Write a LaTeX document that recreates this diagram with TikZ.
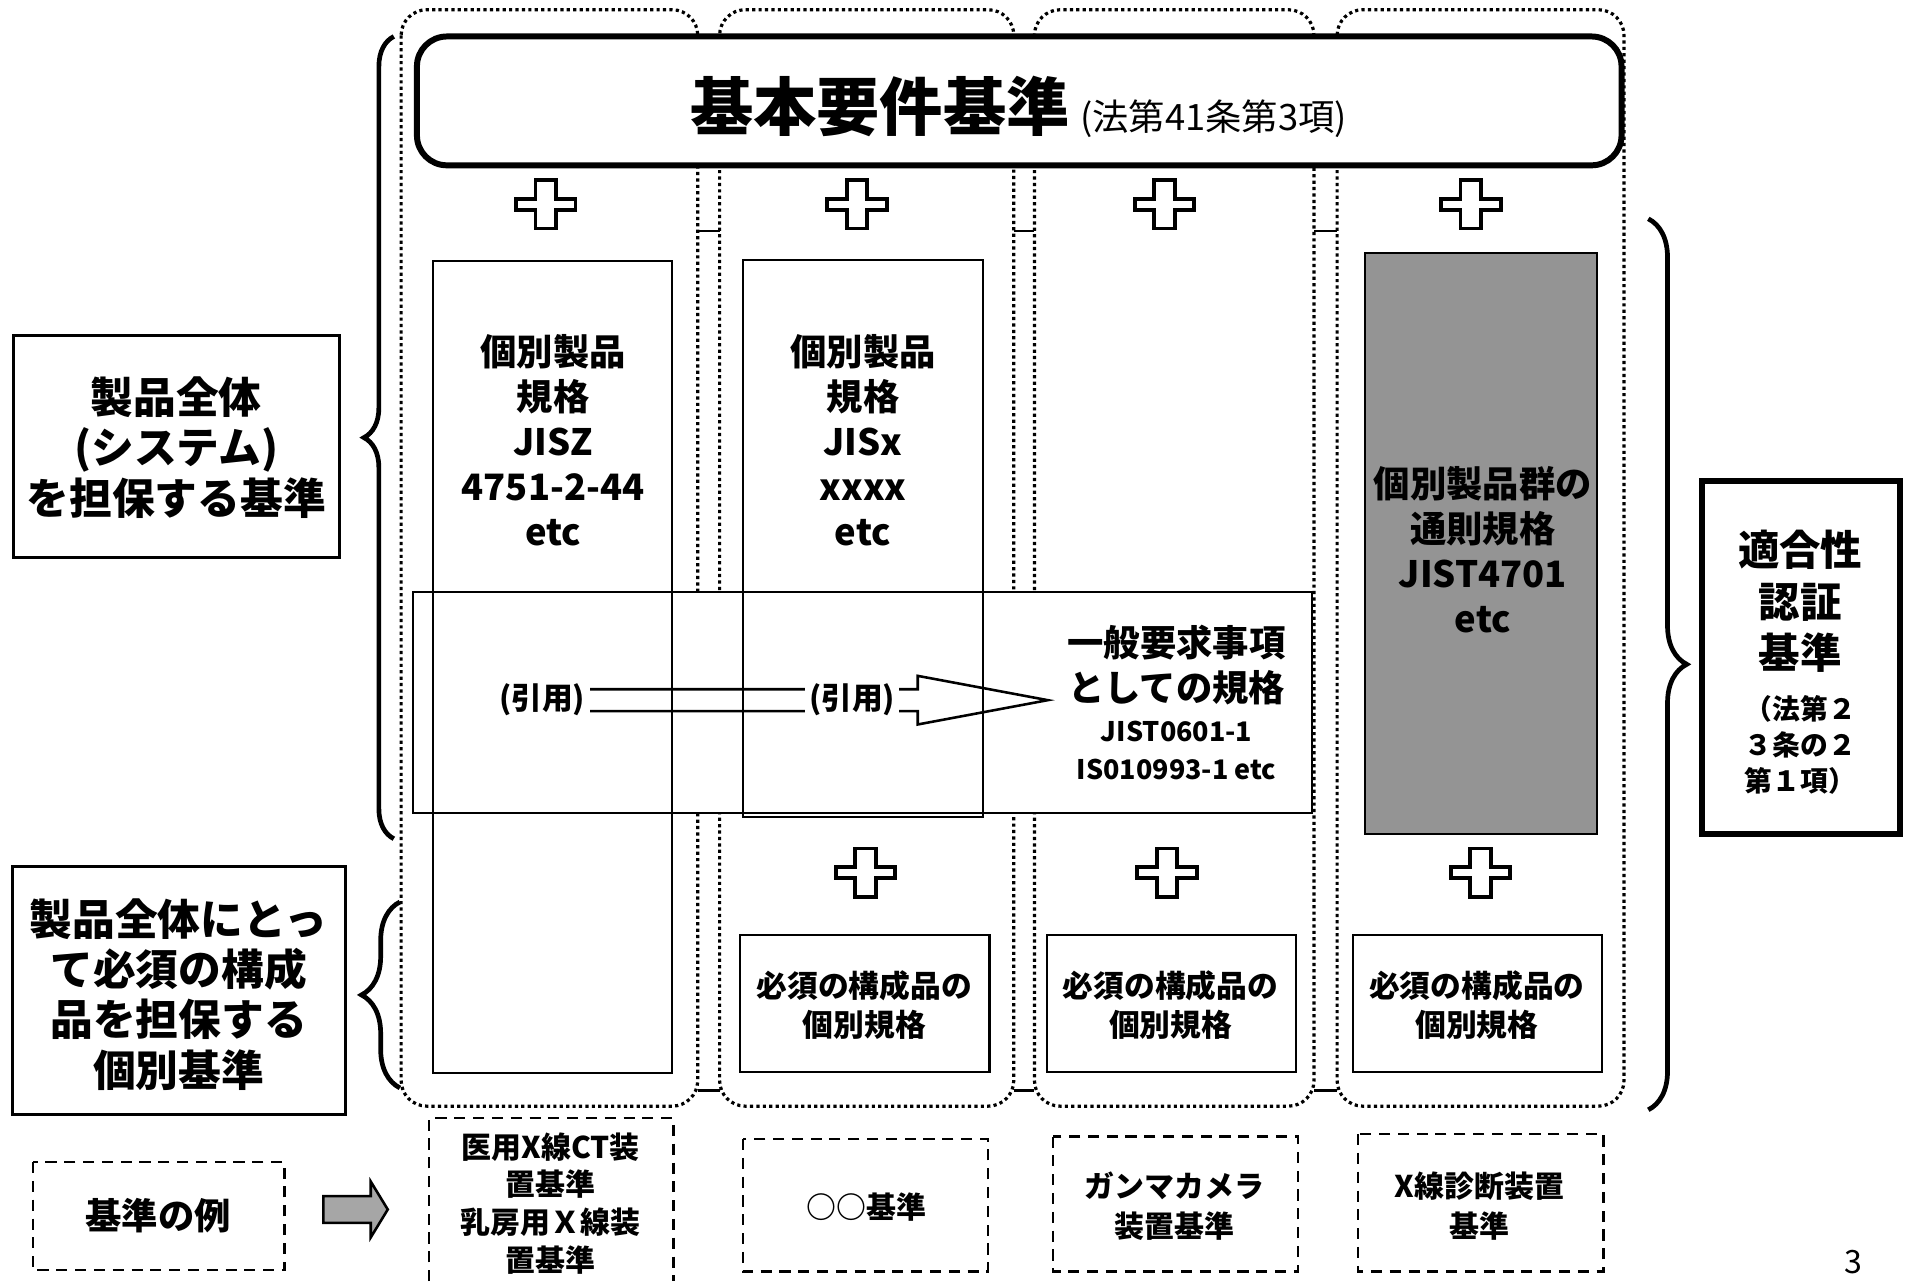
\documentclass[tikz,border=0pt]{standalone}
\usepackage{fontspec}
\usepackage{tikz}
\usetikzlibrary{calc}
\usetikzlibrary{decorations.pathreplacing}
\setmainfont{Noto Sans CJK JP}
\newcommand\sml{\fontsize{6.3}{8.8}\selectfont}
\newcommand\smr{\fontsize{6.5}{8.4}\selectfont}
\tikzset{colframe/.style={draw=black,line width=0.75pt,dash pattern=on 0.75pt off 0.75pt,rounded corners=6pt}}
\tikzset{plusmark/.style={draw=black,line width=0.9pt,fill=white}}
\tikzset{stdbox/.style={draw=black,line width=0.5pt}}
\tikzset{exbox/.style={draw=black,line width=0.55pt,dash pattern=on 2.6pt off 1.8pt}}
\tikzset{curly/.style={decorate,decoration={brace,amplitude=#1},line width=1.1pt}}
\tikzset{txtL/.style={align=center,font=\bfseries\fontsize{10}{11.8}\selectfont}}
\tikzset{txtM/.style={align=center,font=\bfseries\fontsize{8.5}{10.5}\selectfont}}
\tikzset{txtS/.style={align=center,font=\bfseries\fontsize{7.2}{9.1}\selectfont}}
\tikzset{txtX/.style={align=center,font=\bfseries\fontsize{7}{8.8}\selectfont}}

\begin{document}
\begin{tikzpicture}[x=0.01cm,y=-0.01cm]
\useasboundingbox (0,0) rectangle (1568,1054);

	% dotted columns
	\foreach \l/\r in {330/574,592/834,851/1081,1100/1336}
		\draw[colframe] (\l,8) rectangle (\r,910);
	\foreach \a/\b in {574/592,834/851,1081/1100} {
		\draw[line width=0.6pt] (\a,190) -- (\b,190);
		\draw[line width=0.6pt] (\a,897) -- (\b,897);
	}

	% title
	\draw[line width=1.4pt, rounded corners=7pt, fill=white] (343,30) rectangle (1334,136);
	\node[font=\bfseries] (kihon) at (838,88) {\fontsize{14.8}{18}\selectfont 基本要件基準\,\mdseries\fontsize{8.5}{10}\selectfont (法第41条第3項)};

	% plus marks
	\foreach \x/\y in {449/168,705/168,958/168,1210/168,712/718,960/718,1218/718}
		\draw[plusmark] (\x-8.5,\y-20) -- ++(17,0) -- ++(0,15.5) -- ++(16,0) -- ++(0,9) -- ++(-16,0) -- ++(0,15.5) -- ++(-17,0) -- ++(0,-15.5) -- ++(-16,0) -- ++(0,-9) -- ++(16,0) -- cycle;

	% general requirements
	\draw[stdbox, fill=white] (340,487) rectangle (1079,669);
	\node[txtM] (ippan) at (968,578) {一般要求事項\\としての規格\\[-1pt]\sml JIST0601-1\\[-1.6pt]\sml IS010993-1 etc};

	% individual standards
	\draw[stdbox] (356,215) rectangle (553,883);
	\node[txtM] (kobetsu1) at (455,362) {個別製品\\規格\\JISZ\\4751-2-44\\etc};
	\draw[stdbox] (611,214) rectangle (809,672);
	\node[txtM] (kobetsu2) at (710,362) {個別製品\\規格\\JISx\\xxxx\\etc};

	\draw[line width=0.6pt] (440,567) -- (755,567) -- (755,556) -- (862,576) -- (755,596) -- (755,585) -- (440,585);
	\node[txtS, fill=white, inner sep=1pt] (inyo1) at (446,576) {(引用)};
	\node[txtS, fill=white, inner sep=1pt] (inyo2) at (701,576) {(引用)};

	\draw[stdbox, fill=black!42] (1123,208) rectangle (1314,686);
	\node[txtM] (tsusoku) at (1220,452) {個別製品群の\\通則規格\\JIST4701\\etc};

	\foreach \l/\n in {609/b2,861/b3,1113/b4} {
		\draw[stdbox] (\l,769) rectangle ++(205,113);
		\node[txtS] (\n) at (\l+102,827) {必須の構成品の\\個別規格};
	}

	% left side
	\draw[line width=0.7pt] (11,276) rectangle (279,459);
	\node[txtL] (zentai) at (145,368) {製品全体\\(システム)\\を担保する基準};
	\draw[line width=0.7pt] (10,713) rectangle (284,917);
	\node[txtL] (kosei) at (147,818) {製品全体にとっ\\て必須の構成\\品を担保する\\個別基準};
	\draw[curly=7pt] (324,690) -- (324,30);
	\draw[curly=9pt] (329,895) -- (329,742);

	\draw[exbox] (27,956) rectangle (234,1045);
	\node[txtM] (rei) at (130,1000) {基準の例};
	\draw[line width=0.6pt, fill=black!35] (266,984) -- (305,984) -- (305,972) -- (319,995) -- (305,1018) -- (305,1006) -- (266,1006) -- cycle;

	% right side
	\draw[curly=9pt] (1356,180) -- (1356,913);
	\draw[line width=1.4pt] (1400,396) rectangle (1563,686);
	\node[align=center, font=\bfseries\fontsize{9.7}{12}\selectfont] (tekigo) at (1481,545) {適合性\\認証\\基準\\\smr （法第２\\[-3.7pt]\smr ３条の２\\[-3.5pt]\smr 第１項）};

	% examples
	\draw[exbox] (353,1054) -- (353,920) -- (554,920) -- (554,1054);
	\node[txtX] (ex1) at (453,990) {医用X線CT装\\置基準\\乳房用Ｘ線装\\置基準};
	\draw[exbox] (611,937) rectangle (813,1046);
	\node[txtX] (ex2) at (713,993) {○○基準};
	\draw[exbox] (866,935) rectangle (1068,1046);
	\node[txtX, font=\bfseries\fontsize{7}{9.3}\selectfont] (ex3) at (966,992) {ガンマカメラ\\装置基準};
	\draw[exbox] (1117,933) rectangle (1319,1046);
	\node[txtX, font=\bfseries\fontsize{7}{9.3}\selectfont] (ex4) at (1217,992) {X線診断装置\\基準};

	\node[font=\fontsize{7.5}{9}\selectfont] (pnum) at (1525,1038) {3};

\end{tikzpicture}
\end{document}
